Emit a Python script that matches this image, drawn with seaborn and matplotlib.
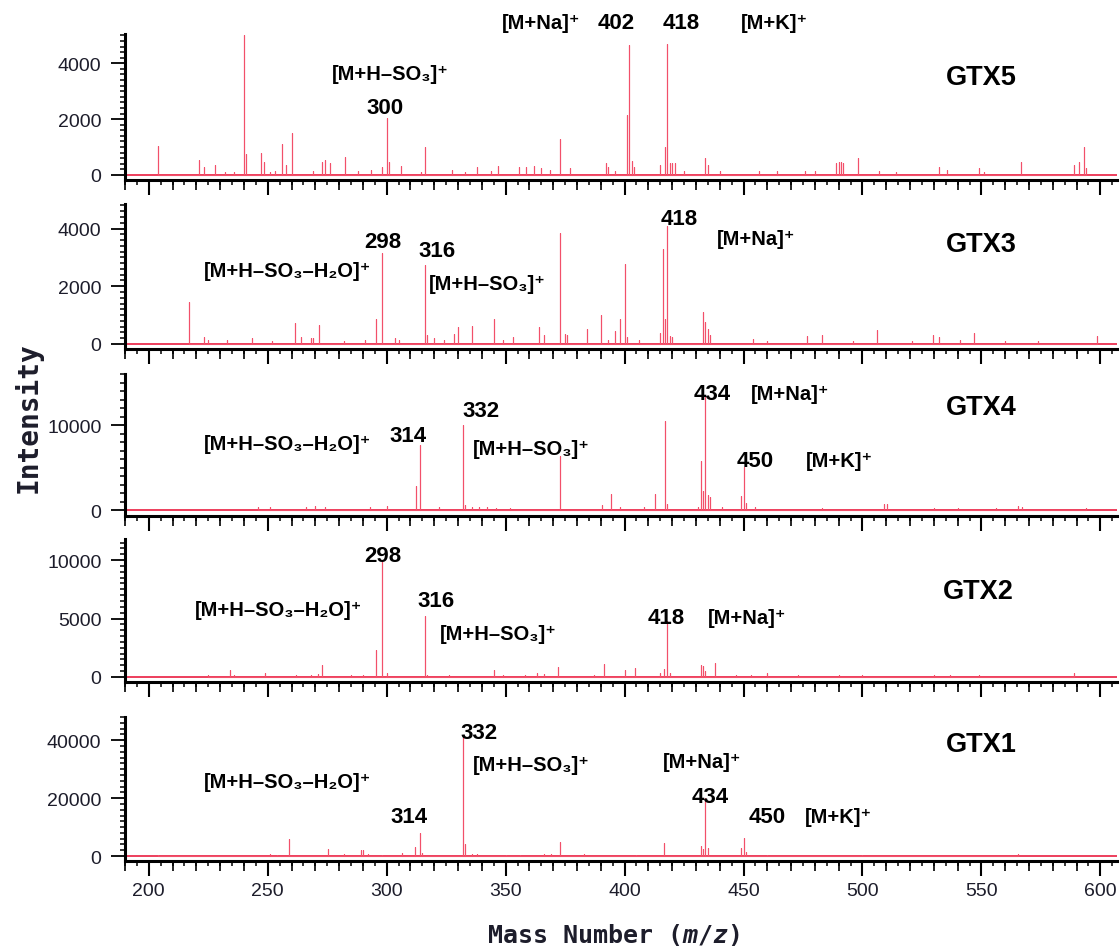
import numpy as np
import pandas as pd
import matplotlib
matplotlib.use("Agg")
import matplotlib.pyplot as plt
from matplotlib.ticker import MultipleLocator
import seaborn as sns

# ---------------- spectra: m/z and intensity of each stick ----------------
gtx5_mz = [204, 221, 223, 228, 232, 236, 240, 241, 247, 248.5, 251, 253, 256, 257.5, 260,
           269, 273, 274, 276, 282.5, 288, 293.5, 298, 300, 301, 306, 314.5, 316, 327.5, 333,
           338, 344, 347, 355.5, 358.5, 362, 365, 368.5, 373, 377, 392, 393, 396, 401, 402,
           403, 404, 415, 417, 418, 419, 420, 421, 425, 434, 435, 440, 456.5, 464, 476, 480,
           489, 490, 491, 492, 498, 507, 514, 532, 535.5, 549, 551, 566.5, 589, 591, 593, 594]
gtx5_int = [1050, 550, 270, 370, 120, 100, 5000, 750, 800, 480, 120, 140, 1100, 370, 1490,
            150, 480, 540, 430, 640, 150, 190, 300, 2050, 450, 330, 120, 1000, 190, 120,
            270, 150, 330, 300, 300, 330, 250, 180, 1300, 240, 420, 300, 150, 2150, 4650,
            500, 300, 360, 1020, 4680, 430, 430, 420, 150, 600, 360, 150, 150, 150, 150, 150,
            420, 480, 470, 430, 600, 150, 120, 300, 180, 240, 120, 460, 360, 480, 1020, 250]

gtx3_mz = [217, 223, 225, 233, 243.5, 252, 261.5, 264, 268, 269, 271.5, 282, 291, 295.5, 298,
           303.5, 305, 316, 317, 320, 324, 328.5, 330, 336, 345, 349, 353, 364, 366, 373, 375,
           376, 384, 390, 393, 396, 398, 400, 401, 406, 415, 416, 417, 418, 419, 420, 433, 434,
           435, 436, 454, 460, 476.5, 483, 496, 506, 521, 529.5, 532, 541, 547, 560, 574, 598.5]
gtx3_int = [1450, 250, 150, 120, 220, 100, 720, 250, 200, 220, 640, 100, 120, 860, 3150,
            200, 150, 2750, 300, 200, 120, 340, 600, 630, 860, 150, 250, 580, 310, 3850, 350,
            300, 520, 990, 150, 460, 870, 2760, 250, 150, 370, 3300, 870, 4100, 290, 250, 1100, 750,
            520, 300, 180, 100, 290, 320, 100, 500, 100, 310, 230, 120, 380, 100, 100, 290]

gtx4_mz = [246, 251, 266, 270, 274, 293, 300, 312.5, 314, 322, 332, 333, 336, 339, 342, 346,
           352, 373, 390.5, 394.5, 398, 408, 413, 417, 418, 431, 432, 433, 434, 435, 436, 441,
           449, 450, 451, 455, 483, 509, 510.5, 530, 540, 556, 565.5, 567, 594]
gtx4_int = [300, 300, 400, 450, 400, 400, 500, 2800, 7600, 300, 10000, 600, 300, 300, 350, 250,
            250, 6300, 650, 1900, 300, 300, 1900, 10500, 700, 400, 5800, 2200, 13400, 1800, 1500, 400,
            1600, 5100, 800, 300, 200, 700, 700, 200, 200, 200, 450, 300, 200]

gtx2_mz = [225, 234, 236, 249, 262, 268, 271, 273, 285, 290, 295.5, 298, 300, 316, 317, 326,
           345, 349, 358, 363, 366, 372, 387, 391.5, 400, 404.5, 415, 416.5, 418, 419, 432, 433,
           434, 438, 447, 453, 460, 473, 490, 500, 530, 537, 549, 589]
gtx2_int = [200, 630, 200, 300, 150, 200, 250, 1000, 150, 150, 2300, 9900, 300, 5200, 200, 150,
            630, 200, 200, 350, 250, 860, 150, 1100, 600, 800, 300, 700, 4800, 300, 1000, 950,
            500, 1200, 200, 200, 300, 150, 150, 150, 200, 200, 200, 300]

gtx1_mz = [204, 251, 254, 259, 275.5, 282, 289, 290, 292, 298, 306.5, 312, 314, 315, 332, 333,
           336, 338, 350, 356, 366, 369, 373, 383, 405, 416.5, 432, 433, 434, 435, 449, 450, 451,
           460, 500, 565.5]
gtx1_int = [400, 700, 500, 5800, 2600, 600, 2100, 2100, 800, 500, 1200, 3100, 8000, 1200, 41000, 4300,
            800, 600, 400, 400, 600, 700, 5000, 600, 400, 4500, 3500, 2500, 20000, 2900, 2900, 6300, 1500,
            300, 500, 600]

x_ticks_major = [200, 250, 300, 350, 400, 450, 500, 550, 600]

ION_NA = "[M+Na]\u207a"
ION_K = "[M+K]\u207a"
ION_SO3 = "[M+H\u2013SO\u2083]\u207a"
ION_SO3_H2O = "[M+H\u2013SO\u2083\u2013H\u2082O]\u207a"

# ---------------- styling ----------------
sns.set_theme(style="ticks")
plt.rcParams["font.family"] = ["Liberation Sans", "DejaVu Sans"]
plt.rcParams["mathtext.fontset"] = "custom"
plt.rcParams["mathtext.it"] = "DejaVu Sans Mono:italic:bold"
plt.rcParams["mathtext.rm"] = "DejaVu Sans Mono:bold"

LABEL_FAMILY = ["Liberation Sans", "DejaVu Sans"]
STICK = "#f2506a"
BASE = "#ec2f4f"
INK = "#1d1d2b"

ION_SIZE, NUM_SIZE, NAME_SIZE = 14.5, 16, 19.5

W, H = 1120, 953
fig = plt.figure(figsize=(W / 100, H / 100), dpi=100)

# panel rectangles in pixels: (top, bottom)
rows = [(35, 181), (205, 350), (375, 517), (540, 683), (718, 862)]
left_px, right_px = 125, 1117

panels = [
    dict(name="GTX5", mz=gtx5_mz, inten=gtx5_int, ylim=(-180, 5050), major=2000, minor=200,
         notes=[(ION_NA, 365, 5450, ION_SIZE), ("402", 396.5, 5450, NUM_SIZE),
                ("418", 424, 5450, NUM_SIZE), (ION_K, 463, 5450, ION_SIZE),
                (ION_SO3, 301.5, 3650, ION_SIZE), ("300", 299.5, 2400, NUM_SIZE),
                ("GTX5", 550, 3500, NAME_SIZE)]),
    dict(name="GTX3", mz=gtx3_mz, inten=gtx3_int, ylim=(-175, 4850), major=2000, minor=200,
         notes=[("298", 298.3, 3550, NUM_SIZE), ("316", 321, 3250, NUM_SIZE),
                (ION_SO3_H2O, 258.5, 2550, ION_SIZE), (ION_SO3, 342.5, 2100, ION_SIZE),
                ("418", 423, 4350, NUM_SIZE), (ION_NA, 455.5, 3650, ION_SIZE),
                ("GTX3", 550, 3450, NAME_SIZE)]),
    dict(name="GTX4", mz=gtx4_mz, inten=gtx4_int, ylim=(-700, 16000), major=10000, minor=1000,
         notes=[(ION_SO3_H2O, 258.5, 7800, ION_SIZE), ("314", 309, 8800, NUM_SIZE),
                ("332", 339.7, 11700, NUM_SIZE), (ION_SO3, 360.8, 7200, ION_SIZE),
                ("434", 437, 13700, NUM_SIZE), (ION_NA, 469.5, 13700, ION_SIZE),
                ("450", 455, 5800, NUM_SIZE), (ION_K, 490.3, 5800, ION_SIZE),
                ("GTX4", 550, 12100, NAME_SIZE)]),
    dict(name="GTX2", mz=gtx2_mz, inten=gtx2_int, ylim=(-430, 11800), major=5000, minor=500,
         notes=[("298", 298.3, 10400, NUM_SIZE), (ION_SO3_H2O, 254.5, 5800, ION_SIZE),
                ("316", 320.7, 6500, NUM_SIZE), (ION_SO3, 346.8, 3700, ION_SIZE),
                ("418", 417.3, 5100, NUM_SIZE), (ION_NA, 451.5, 5100, ION_SIZE),
                ("GTX2", 548.5, 7350, NAME_SIZE)]),
    dict(name="GTX1", mz=gtx1_mz, inten=gtx1_int, ylim=(-1700, 48000), major=20000, minor=2000,
         notes=[("332", 338.8, 42800, NUM_SIZE), (ION_SO3, 360.8, 31700, ION_SIZE),
                (ION_SO3_H2O, 258.5, 25900, ION_SIZE), ("314", 309.3, 13500, NUM_SIZE),
                (ION_NA, 432.5, 32800, ION_SIZE), ("434", 436, 20700, NUM_SIZE),
                ("450", 460, 13500, NUM_SIZE), (ION_K, 490, 13500, ION_SIZE),
                ("GTX1", 550, 38700, NAME_SIZE)]),
]


def stick_frame(mz, inten):
    """Turn peak lists into a single up-and-down trace for a stick spectrum."""
    mz = np.asarray(mz, float)
    inten = np.asarray(inten, float)
    order = np.argsort(mz)
    xs = np.repeat(mz[order], 3)
    ys = np.column_stack([np.zeros(len(mz)), inten[order], np.zeros(len(mz))]).ravel()
    return pd.DataFrame({"mz": xs, "intensity": ys})


for i, (p, (top, bot)) in enumerate(zip(panels, rows)):
    rect = [left_px / W, 1 - bot / H, (right_px - left_px) / W, (bot - top) / H]
    ax = fig.add_axes(rect)

    ax.axhline(0, color=BASE, lw=1.3, zorder=1)
    sns.lineplot(data=stick_frame(p["mz"], p["inten"]), x="mz", y="intensity",
                 sort=False, estimator=None, color=STICK, lw=0.8, ax=ax, zorder=2)

    ax.set_xlim(190, 607)
    ax.set_ylim(*p["ylim"])
    ax.set_xlabel("")
    ax.set_ylabel("")
    ax.set_facecolor("white")
    for s in ("top", "right"):
        ax.spines[s].set_visible(False)
    for s in ("left", "bottom"):
        ax.spines[s].set_linewidth(2.2)
        ax.spines[s].set_color("black")

    ax.yaxis.set_major_locator(MultipleLocator(p["major"]))
    ax.yaxis.set_minor_locator(MultipleLocator(p["minor"]))
    ax.set_xticks(x_ticks_major)
    ax.xaxis.set_minor_locator(MultipleLocator(5))
    ax.tick_params(axis="y", which="major", direction="out", length=10, width=1.3,
                   labelsize=14, labelcolor=INK, pad=7, color="black")
    ax.tick_params(axis="y", which="minor", direction="out", length=3.5, width=1.1, color="black")
    ax.tick_params(axis="x", which="major", direction="out", length=11, width=1.5,
                   labelsize=14, labelcolor=INK, pad=4, color="black")
    ax.tick_params(axis="x", which="minor", direction="out", length=3.5, width=1.1, color="black")
    if i < len(panels) - 1:
        ax.tick_params(axis="x", labelbottom=False)

    # medium ticks on every tenth mass unit
    sec = ax.secondary_xaxis("bottom")
    sec.set_xticks([v for v in range(190, 610, 10) if v % 50 != 0])
    sec.tick_params(axis="x", which="major", direction="out", length=7, width=1.2,
                    labelbottom=False, color="black")
    sec.xaxis.set_minor_locator(plt.NullLocator())
    for s in sec.spines.values():
        s.set_visible(False)

    for text, x, y, size in p["notes"]:
        ax.text(x, y, text, ha="center", va="center", fontsize=size, fontweight="bold",
                family=LABEL_FAMILY, color="black", clip_on=False, zorder=5)

fig.text(0.548, 1 - 935 / H, r"Mass Number ($m/z$)", ha="center", va="center",
         fontsize=18, fontweight="bold", family="DejaVu Sans Mono", color=INK)
fig.text(28 / W, 1 - 418 / H, "Intensity", ha="center", va="center", rotation=90,
         fontsize=20, fontweight="bold", family="DejaVu Sans Mono", color=INK)

fig.savefig("out.png", dpi=100, facecolor="white")
